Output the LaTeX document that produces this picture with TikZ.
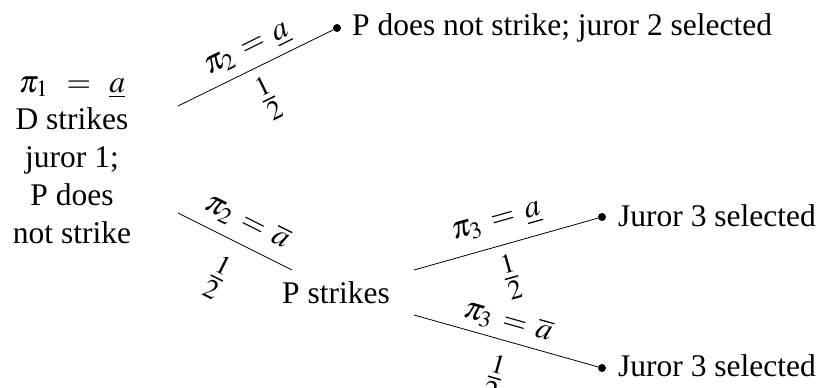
\documentclass[tikz,border=0pt]{standalone}
\usepackage{mathptmx}
\usepackage[no-math]{fontspec}
\setmainfont{Liberation Serif}
\newcommand{\half}{{\fontsize{37}{40}\selectfont$\frac{1}{2}$}}
\begin{document}
\begin{tikzpicture}[x=1pt,y=-1pt,
  every node/.style={inner sep=0pt, font=\fontsize{31.5}{37.8}\selectfont},
  dot/.style={circle,fill=black,inner sep=0pt,minimum size=8pt},
  branch/.style={line width=0.8pt},
  lab/.style={sloped,anchor=center}]
\useasboundingbox (0,0) rectangle (822,388);
\node[align=center] (root) at (72,160) {$\pi_1 \mskip6.5mu=\mskip6.5mu \underline{a}$\\D strikes\\juror 1;\\P does\\not strike};
% upper branch
\coordinate (a0) at (178,106);
\node[dot] (a1) at (337,28) {};
\node[anchor=base west] (t1) at (352,35) {P does not strike; juror 2 selected};
\draw[branch] (a0) -- (a1)
  node[lab,pos=0.505,yshift=19pt] (la1) {$\pi_2 \mskip2mu= \mskip2mu\underline{a}$}
  node[lab,pos=0.49,yshift=-33pt] (lp1) {\half};
% lower branch
\coordinate (b0) at (178,213);
\coordinate (b1) at (292,270);
\node[anchor=base west] (ps) at (282,303) {P strikes};
\draw[branch] (b0) -- (b1)
  node[lab,pos=0.515,yshift=23pt] (lb1) {$\pi_2 \mskip2mu= \mskip2mu\overline{a}$}
  node[lab,pos=0.5,yshift=-40pt] (lp2) {\half};
% from P strikes
\coordinate (c0) at (414,270);
\node[dot] (c1) at (602,217) {};
\node[anchor=base west] (t2) at (618,226) {Juror 3 selected};
\draw[branch] (c0) -- (c1)
  node[lab,pos=0.485,yshift=23pt] (lc1) {$\pi_3 \mskip2mu= \mskip2mu\underline{a}$}
  node[lab,pos=0.48,yshift=-33pt] (lp3) {\half};
\coordinate (e0) at (414,315);
\node[dot] (e1) at (602,368) {};
\node[anchor=base west] (t3) at (618,376) {Juror 3 selected};
\draw[branch] (e0) -- (e1)
  node[lab,pos=0.483,yshift=19pt] (le1) {$\pi_3 \mskip2mu= \mskip2mu\overline{a}$}
  node[lab,pos=0.495,yshift=-38pt] (lp4) {\half};
\end{tikzpicture}
\end{document}
